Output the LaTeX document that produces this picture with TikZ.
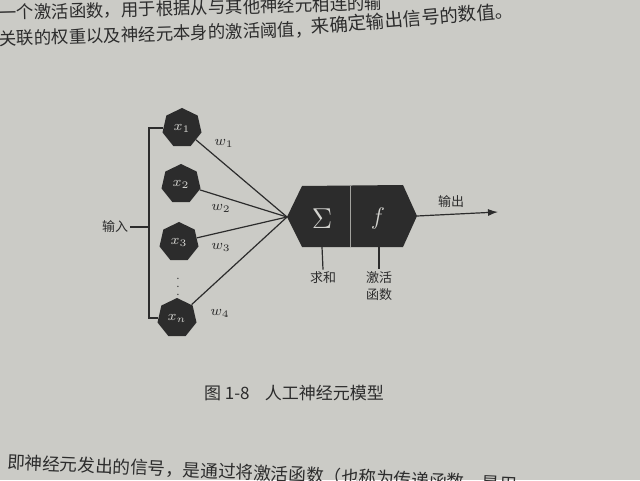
\documentclass[tikz,border=0pt]{standalone}
\usepackage{fontspec}
\setmainfont{Noto Sans CJK SC}
\usetikzlibrary{positioning,shapes.geometric,arrows.meta}

\definecolor{paper}{RGB}{203,203,198}
\definecolor{ink}{RGB}{44,44,44}

\begin{document}
\begin{tikzpicture}[x=0.5pt,y=-0.5pt,
	neuron/.style={regular polygon, regular polygon sides=7, fill=ink, text=paper!80!white, inner sep=0pt, minimum size=20pt, font=\fontsize{7}{7}\selectfont},
	wire/.style={draw=ink, line width=0.6pt},
	lbl/.style={text=ink, inner sep=1pt, font=\fontsize{6.5}{8.5}\selectfont},
	wlbl/.style={text=ink, inner sep=0pt, font=\fontsize{7}{7}\selectfont},
	bodytext/.style={text=ink, anchor=west, inner sep=0pt, font=\fontsize{8.7}{10}\selectfont}]
				\clip (0,0) rectangle (640,480);
				\fill[paper] (0,0) rectangle (640,480);
				% page text round the figure
				\node[bodytext, rotate=1.5] (line1) at (-1,13) {一个激活函数，用于根据从与其他神经元相连的输};
				\node[bodytext, rotate=1.8] (line2) at (-1,39) {关联的权重以及神经元本身的激活阈值，};
				\node[bodytext, rotate=4.8, font=\fontsize{9.2}{10}\selectfont] (line2b) at (311,27) {来确定输出信号的数值。};
				\node[bodytext, rotate=-2.5, font=\fontsize{8.8}{10}\selectfont] (line3) at (7,462) {即神经元发出的信号，是通过将激活函数（也称为传递函数，是用};
				% inputs
				\node[neuron] (x1) at (182, 128) {$x_1$};
				\node[neuron] (x2) at (181, 184) {$x_2$};
				\node[neuron] (x3) at (179, 242) {$x_3$};
				\node[neuron] (xn) at (177, 318) {$x_n$};
				\node[text=ink, inner sep=0pt, font=\fontsize{5}{5}\selectfont] (dots) at (178, 281) {$\vdots$};
				\coordinate (brk) at (149, 227);
				\node[lbl] (inlbl) at (115, 227) {输入};
				\draw[wire] (x1.west) -| (brk) |- (xn.west);
				\draw[wire] (inlbl.east) -- (brk);
				% neuron body
				\coordinate (tip) at (287, 217);
				\coordinate (rtip) at (417, 216);
				\fill[ink] (tip) -- (302, 186) -- (403, 185) -- (rtip) -- (403, 247) -- (302, 247) -- cycle;
				\draw[paper!75!ink, line width=0.5pt] (350, 186) -- (350, 247);
				\node[text=paper!85!white, font=\fontsize{14}{14}\selectfont] (sum) at (322, 219) {$\Sigma$};
				\node[text=paper!85!white, font=\fontsize{13}{13}\selectfont] (act) at (378, 219) {$f$};
				% weights
				\foreach \n in {x1,x2,x3,xn}
					\draw[wire] (\n) -- (tip);
				\node[wlbl] (w1) at (224, 143) {$w_1$};
				\node[wlbl] (w2) at (221, 208) {$w_2$};
				\node[wlbl] (w3) at (221, 247) {$w_3$};
				\node[wlbl] (w4) at (220, 313) {$w_4$};
				% labels under the body
				\coordinate (sumfoot) at (322, 247);
				\coordinate (actfoot) at (379, 247);
				\node[lbl] (sumlbl) at (323, 278) {求和};
				\node[lbl, align=center] (actlbl) at (379, 286) {激活\\函数};
				\draw[wire] (sumfoot) -- (sumlbl.north);
				\draw[wire] (actfoot) -- (actlbl.north);
				% output
				\coordinate (out) at (498, 212);
				\draw[wire, -{Latex[length=5pt,width=3.5pt]}] (rtip) -- (out);
				\node[lbl] (outlbl) at (451, 202) {输出};
				% caption
				\node[lbl, font=\fontsize{8.5}{9}\selectfont] (cap) at (294, 393) {图 1-8\hspace{0.9em}人工神经元模型};
\end{tikzpicture}
\end{document}
